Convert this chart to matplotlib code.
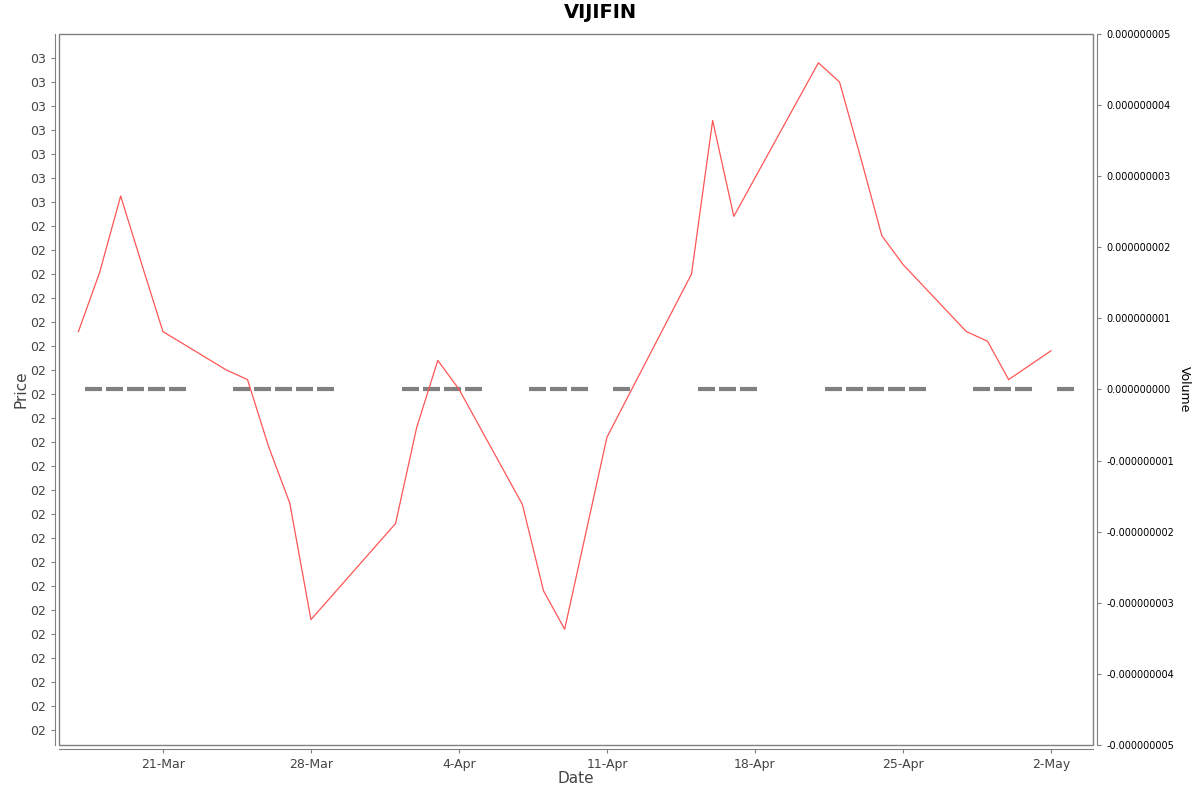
import datetime as dt
import matplotlib
matplotlib.use("Agg")
import matplotlib.pyplot as plt
from matplotlib.patches import Rectangle

# price line (2025)
price_dates = ["2025-03-17", "2025-03-18", "2025-03-19", "2025-03-20", "2025-03-21",
               "2025-03-24", "2025-03-25", "2025-03-26", "2025-03-27", "2025-03-28",
               "2025-04-01", "2025-04-02", "2025-04-03", "2025-04-04",
               "2025-04-07", "2025-04-08", "2025-04-09", "2025-04-11",
               "2025-04-15", "2025-04-16", "2025-04-17",
               "2025-04-21", "2025-04-22", "2025-04-23", "2025-04-24", "2025-04-25",
               "2025-04-28", "2025-04-29", "2025-04-30", "2025-05-02"]
prices = [2.946, 2.9705, 3.0025, 2.974, 2.946,
          2.930, 2.926, 2.898, 2.8745, 2.826,
          2.866, 2.906, 2.934, 2.922,
          2.874, 2.838, 2.822, 2.902,
          2.970, 3.034, 2.994,
          3.058, 3.050, 3.0185, 2.986, 2.974,
          2.946, 2.942, 2.926, 2.938]

# volume bars (all zero)
volumes = [0.0] * len(price_dates)

price_ticks = [round(2.78 + 0.01 * i, 2) for i in range(29)]
price_tick_labels = ["02"] * 22 + ["03"] * 7

vol_ticks = [-5e-9, -4e-9, -3e-9, -2e-9, -1e-9, 0, 1e-9, 2e-9, 3e-9, 4e-9, 5e-9]
vol_tick_labels = ["-0.000000005", "-0.000000004", "-0.000000003", "-0.000000002",
                   "-0.000000001", "0.000000000", "0.000000001", "0.000000002",
                   "0.000000003", "0.000000004", "0.000000005"]

date_ticks = ["2025-03-21", "2025-03-28", "2025-04-04", "2025-04-11",
              "2025-04-18", "2025-04-25", "2025-05-02"]
date_tick_labels = ["21-Mar", "28-Mar", "4-Apr", "11-Apr", "18-Apr", "25-Apr", "2-May"]

to_dt = lambda s: dt.datetime.strptime(s, "%Y-%m-%d")
xd = [to_dt(s) for s in price_dates]
xb = [d + dt.timedelta(hours=17) for d in xd]

grey = "#808080"
txt = "#444444"

fig = plt.figure(figsize=(12, 7.92), dpi=100)
ax = fig.add_axes([59 / 1200, 47 / 792, 1034 / 1200, 711 / 792])
ax2 = ax.twinx()

ax2.bar(xb, volumes, width=0.8, color=grey, edgecolor=grey, linewidth=3, zorder=1)
ax.plot(xd, prices, color="#ff5555", linewidth=0.9, zorder=3)
ax.set_zorder(ax2.get_zorder() + 1)
ax.patch.set_visible(False)

ax.set_xlim(dt.datetime(2025, 3, 16, 2), dt.datetime(2025, 5, 3, 23, 45))
ax.set_ylim(2.77375, 3.07)
ax2.set_ylim(-5e-9, 5e-9)

ax.set_yticks(price_ticks)
ax.set_yticklabels(price_tick_labels)
ax.set_xticks([to_dt(s) for s in date_ticks])
ax.set_xticklabels(date_tick_labels)
ax2.set_yticks(vol_ticks)
ax2.set_yticklabels(vol_tick_labels)

for a in (ax, ax2):
    for s in a.spines.values():
        s.set_visible(False)
for side in ("left", "bottom"):
    ax.spines[side].set_visible(True)
    ax.spines[side].set_position(("outward", 3))
    ax.spines[side].set_color(grey)
ax2.spines["right"].set_visible(True)
ax2.spines["right"].set_position(("outward", 3))
ax2.spines["right"].set_color(grey)

ax.add_patch(Rectangle((0, 0), 1, 1, transform=ax.transAxes, fill=False,
                       edgecolor=grey, linewidth=1, clip_on=False, zorder=5))

ax.tick_params(axis="both", colors=grey, labelcolor=txt, labelsize=9, length=3, width=0.8)
ax2.tick_params(axis="y", colors=grey, labelcolor="black", labelsize=7, length=3, width=0.8)

ax.set_xlabel("Date", fontsize=11, color=txt, labelpad=0)
ax.set_ylabel("Price", fontsize=11, color=txt, labelpad=1)
ax2.set_ylabel("Volume", fontsize=9, color="black", rotation=270, labelpad=12)

fig.text(0.5, 0.984, "VIJIFIN", ha="center", va="center", fontsize=14, fontweight="bold")

fig.savefig("out.png", dpi=100)
